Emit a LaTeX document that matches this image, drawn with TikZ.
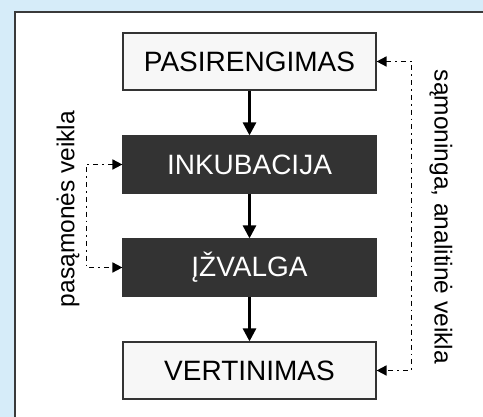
\documentclass[tikz,border=0pt]{standalone}
\usepackage{fontspec}
\setmainfont{Liberation Sans}
\usetikzlibrary{arrows.meta}
\definecolor{bgblue}{HTML}{D6ECF9}
\definecolor{darkbox}{HTML}{333333}
\definecolor{lightbox}{HTML}{F7F7F7}
\definecolor{frame}{HTML}{3A3A3A}
\begin{document}
\begin{tikzpicture}[x=1pt,y=1pt,
  stage/.style={draw=darkbox,line width=1.2pt,minimum width=253pt,minimum height=57pt,inner sep=0pt,font=\fontsize{28}{30}\selectfont},
  lightstage/.style={stage,fill=lightbox,text=black},
  darkstage/.style={stage,fill=darkbox,text=white},
  flow/.style={line width=2.8pt,-{Triangle[length=13pt,width=13pt]}},
  loop/.style={line width=1.7pt,dash pattern=on 5pt off 4pt on 1.7pt off 4pt,{Triangle[length=10pt,width=10pt]}-{Triangle[length=10pt,width=10pt]}},
  lab/.style={font=\fontsize{24.5}{28}\selectfont,inner sep=0pt}]
\useasboundingbox (0,0) rectangle (483,417);
\fill[bgblue] (0,0) rectangle (483,417);
\fill[white] (15,0) rectangle (483,405);
\draw[frame,line width=1.6pt] (15,0) -- (15,405) -- (483,405);
\node[lightstage] (pas) at (249.5,355.5) {PASIRENGIMAS};
\node[darkstage] (ink) at (249.5,252.5) {INKUBACIJA};
\node[darkstage] (izv) at (249.5,149.5) {ĮŽVALGA};
\node[lightstage] (ver) at (249.5,46.5) {VERTINIMAS};
\draw[flow] (pas) -- (ink);
\draw[flow] (ink) -- (izv);
\draw[flow] (izv) -- (ver);
\draw[loop] (ink.west) -- ++(-36,0) |- (izv.west);
\draw[loop] (pas.east) -- ++(35,0) |- (ver.east);
\node[lab,rotate=90] (lpas) at (68,208) {pasąmonės veikla};
\node[lab,rotate=-90] (lsam) at (441,200) {sąmoninga, analitinė veikla};
\end{tikzpicture}
\end{document}
